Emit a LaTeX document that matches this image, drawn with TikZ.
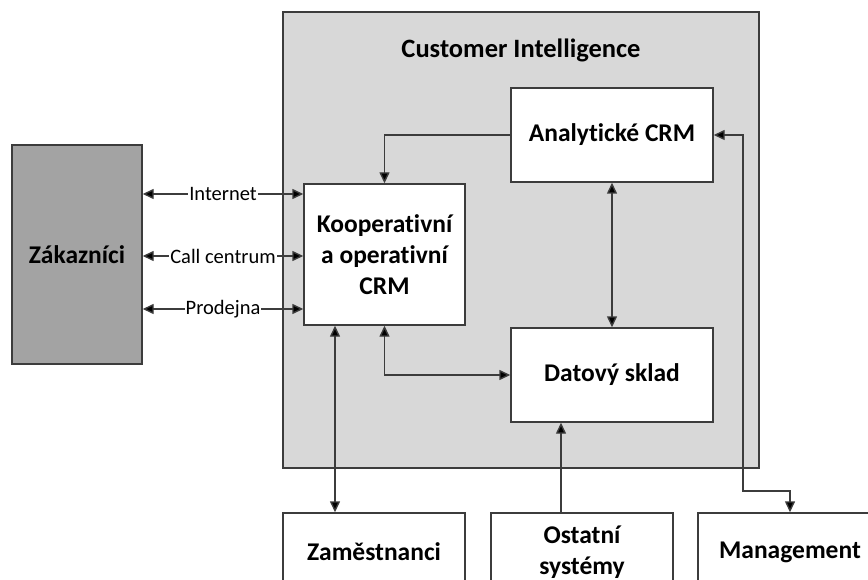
\documentclass[tikz,border=0pt]{standalone}
\usepackage{fontspec}
\setmainfont{Carlito}[Ligatures=NoCommon]
\usetikzlibrary{arrows.meta}
\definecolor{linec}{HTML}{3C3C3C}
\definecolor{darkfill}{HTML}{A3A3A3}
\definecolor{lightfill}{HTML}{D8D8D8}
\tikzset{
  box/.style={draw=linec, line width=1.4pt, fill=white, rectangle, inner sep=0pt, align=center, font=\fontsize{25.5}{31}\selectfont\bfseries},
  conn/.style={draw=linec, line width=1.4pt, -{Triangle[length=11pt,width=10pt,fill=black]}},
  biconn/.style={draw=linec, line width=1.4pt, {Triangle[length=11pt,width=10pt,fill=black]}-{Triangle[length=11pt,width=10pt,fill=black]}},
  lbl/.style={fill=white, inner sep=1pt, font=\fontsize{20.5}{22}\selectfont, text=black}
}
\begin{document}
\begin{tikzpicture}[x=1pt,y=-1pt]
\useasboundingbox (0,0) rectangle (868,580);
% containers
\node[box, fill=lightfill, minimum width=476pt, minimum height=456pt] (ci) at (521,240) {};
\node[font=\fontsize{26.5}{30}\selectfont\bfseries] (title) at (521,50) {Customer Intelligence};
\node[box, fill=darkfill, minimum width=130pt, minimum height=219pt] (zak) at (77,254.5) {Zákazníci};
% inner boxes
\node[box, minimum width=202pt, minimum height=94pt] (ana) at (612,135) {Analytické CRM};
\node[box, minimum width=161pt, minimum height=141pt] (koop) at (384.5,254.5) {Kooperativní\\a operativní\\CRM};
\node[box, minimum width=202pt, minimum height=94pt] (dat) at (612,375) {Datový sklad};
% bottom boxes
\node[box, minimum width=182pt, minimum height=78pt] (zam) at (374,552) {Zaměstnanci};
\node[box, minimum width=182pt, minimum height=78pt] (ost) at (582,552) {Ostatní\\systémy};
\node[box, minimum width=184pt, minimum height=78pt] (man) at (790,552) {Management};
% helper coordinates
\coordinate (yi) at (0,194);
\coordinate (yc) at (0,256);
\coordinate (yp) at (0,309);
\coordinate (kz) at (335,0);
\coordinate (ko) at (561,0);
\coordinate (mx) at (743,0);
\coordinate (my) at (0,491);
% customer channels
\draw[biconn] (zak.east |- yi) -- (koop.west |- yi) node[midway, lbl] {Internet};
\draw[biconn] (zak.east |- yc) -- (koop.west |- yc) node[midway, lbl] {Call centrum};
\draw[biconn] (zak.east |- yp) -- (koop.west |- yp) node[midway, lbl] {Prodejna};
% internal
\draw[conn] (ana.west) -| (koop.north);
\draw[biconn] (ana.south) -- (dat.north);
\draw[biconn] (koop.south) |- (dat.west);
\draw[biconn] (koop.south -| kz) -- (zam.north -| kz);
\draw[conn] (ost.north -| ko) -- (dat.south -| ko);
\draw[biconn] (ana.east) -- (ana.east -| mx) -- (mx |- my) -- (man.north |- my) -- (man.north);
\end{tikzpicture}
\end{document}
